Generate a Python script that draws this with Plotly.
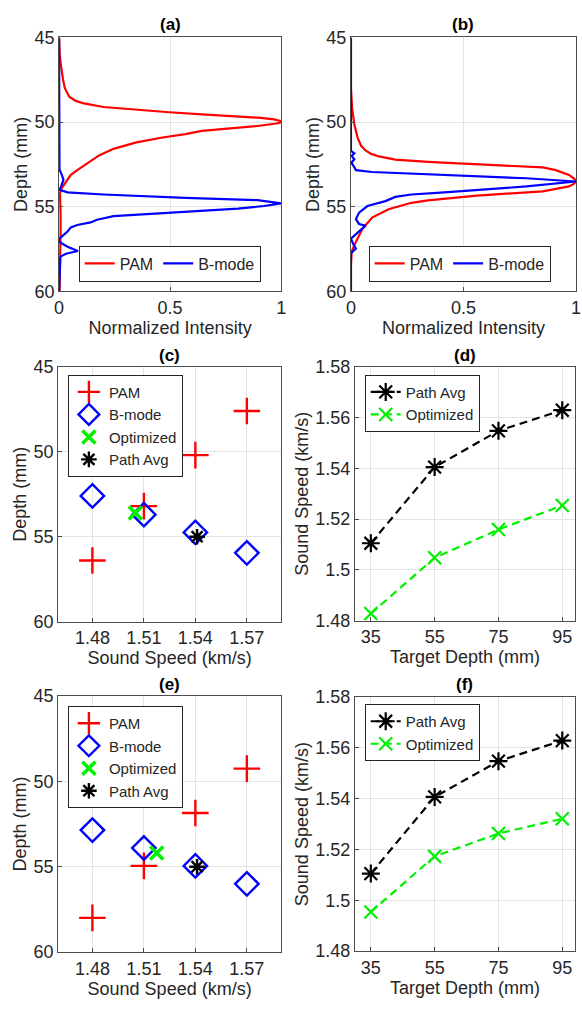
import plotly.graph_objects as go

# ---------------- data ----------------
# (a) axial intensity profiles, case 1
a_pam_depth = [45.0, 45.5, 46.0, 46.5, 47.0, 47.5, 48.0, 48.5, 48.75, 48.9, 49.11, 49.27, 49.42,
               49.54, 49.65, 49.75, 49.84, 49.93, 50.0, 50.07, 50.23, 50.42, 50.52, 50.71, 50.91,
               51.2, 51.58, 51.97, 52.35, 52.64, 52.84, 53.12, 53.51, 53.9, 54.19, 54.6, 55.5,
               56.5, 57.5, 58.5, 59.3, 60.0]
a_pam_int = [0.0, 0.001, 0.003, 0.007, 0.012, 0.018, 0.026, 0.046, 0.075, 0.112, 0.2, 0.348, 0.496,
             0.643, 0.791, 0.909, 0.968, 0.995, 1.0, 0.985, 0.894, 0.746, 0.643, 0.569, 0.466,
             0.348, 0.245, 0.18, 0.135, 0.104, 0.082, 0.053, 0.031, 0.012, 0.004, 0.006, 0.007,
             0.007, 0.006, 0.005, 0.003, 0.002]
a_bm_depth = [45.0, 50.0, 52.8, 53.1, 53.4, 53.7, 54.0, 54.15, 54.28, 54.48, 54.61, 54.8, 54.96,
              55.11, 55.29, 55.46, 55.56, 55.77, 55.93, 56.08, 56.22, 56.47, 56.7, 56.9, 57.08,
              57.37, 57.62, 57.78, 57.95, 58.82, 59.77, 60.0]
a_bm_int = [0.0, 0.0, 0.002, 0.012, 0.02, 0.012, 0.003, 0.038, 0.2, 0.569, 0.894, 1.0, 0.923,
            0.805, 0.569, 0.348, 0.245, 0.171, 0.142, 0.082, 0.053, 0.038, 0.016, 0.0, 0.001,
            0.038, 0.085, 0.031, 0.006, 0.003, 0.0, 0.0]

# (b) axial intensity profiles, case 2
b_pam_depth = [45.0, 48.0, 49.17, 50.13, 50.9, 51.4, 51.68, 51.88, 52.03, 52.22, 52.35, 52.49,
               52.68, 52.84, 53.12, 53.35, 53.51, 53.65, 53.8, 54.09, 54.34, 54.63, 54.77, 55.15,
               55.64, 56.31, 56.7, 57.27, 57.66, 58.5, 60.0]
b_pam_int = [0.0, 0.0, 0.005, 0.015, 0.029, 0.045, 0.065, 0.09, 0.124, 0.197, 0.342, 0.56,
             0.852, 0.91, 0.969, 0.992, 1.0, 0.99, 0.969, 0.852, 0.56, 0.342, 0.269, 0.167,
             0.094, 0.051, 0.036, 0.015, 0.003, 0.0, 0.0]
b_bm_depth = [45.0, 51.7, 51.85, 52.0, 52.2, 52.4, 52.6, 52.84, 52.95, 53.12, 53.32, 53.51, 53.8,
              54.15, 54.28, 54.42, 54.67, 54.96, 55.35, 55.73, 56.02, 56.12, 56.6, 56.89, 57.2,
              57.47, 57.74, 60.0]
b_bm_int = [0.0, 0.0, 0.015, 0.003, 0.015, 0.002, 0.012, 0.022, 0.094, 0.415, 0.779, 1.0, 0.78,
            0.415, 0.269, 0.197, 0.153, 0.073, 0.036, 0.022, 0.036, 0.065, 0.022, 0.0, 0.01,
            0.022, 0.0, 0.0]

# (c) / (e) focal depth vs assumed sound speed
speeds = [1.48, 1.51, 1.54, 1.57]
c_pam_depth = [56.4, 53.2, 50.2, 47.6]
c_bm_depth = [52.6, 53.7, 54.75, 55.95]
c_opt_speed, c_opt_depth = [1.505], [53.6]
c_avg_speed, c_avg_depth = [1.541], [55.0]

e_pam_depth = [58.0, 54.95, 51.85, 49.25]
e_bm_depth = [52.85, 53.9, 54.95, 56.0]
e_opt_speed, e_opt_depth = [1.5175], [54.2]
e_avg_speed, e_avg_depth = [1.541], [55.0]

# (d) / (f) sound speed vs target depth
target_depth = [35, 55, 75, 95]
d_path_avg = [1.5105, 1.5405, 1.5548, 1.5629]
d_optimized = [1.4828, 1.5048, 1.5159, 1.5254]
f_path_avg = [1.5105, 1.5407, 1.5548, 1.5629]
f_optimized = [1.4954, 1.5173, 1.5263, 1.5321]

panel_titles = ["(a)", "(b)", "(c)", "(d)", "(e)", "(f)"]

# ---------------- styling ----------------
FONT = "Liberation Sans, Arial, sans-serif"
TXT = "#262626"
AXC = "#4d4d4d"
GRID = "#e3e3e3"
RED, BLUE, GREEN, BLACK = "#ff0000", "#0000ff", "#00f000", "#000000"

W, H = 582, 1013


def xd(p0, p1):
    return [p0 / W, p1 / W]


def yd(p0, p1):
    return [1 - p1 / H, 1 - p0 / H]


# pixel boxes of the six axes: (left, right, top, bottom)
boxes = [
    (55, 281, 28, 287),
    (352, 581, 28, 287),
    (54, 281, 364, 624),
    (356, 580, 364, 623),
    (54, 281, 700, 961),
    (356, 580, 701, 960),
]

fig = go.Figure()


def ax_common():
    return dict(
        showline=True, mirror=True, linecolor=AXC, linewidth=1,
        ticks="inside", ticklen=4, tickcolor=AXC, tickwidth=1,
        showgrid=True, gridcolor=GRID, gridwidth=1, zeroline=False,
        tickfont=dict(family=FONT, size=18, color=TXT),
        title_font=dict(family=FONT, size=18, color=TXT),
    )


layout = dict(
    width=W, height=H, margin=dict(l=0, r=0, t=0, b=0),
    paper_bgcolor="white", plot_bgcolor="white", showlegend=True,
    font=dict(family=FONT, size=16, color=TXT),
)

for i, (l, r, t, b) in enumerate(boxes):
    n = "" if i == 0 else str(i + 1)
    xa = ax_common()
    ya = ax_common()
    xa.update(domain=xd(l, r), anchor="y" + n)
    ya.update(domain=yd(t, b), anchor="x" + n)
    if i in (0, 1):
        xa.update(range=[0, 1], tickvals=[0, 0.5, 1], ticktext=["0", "0.5", "1"],
                  title=dict(text="Normalized Intensity", standoff=3))
        ya.update(range=[60, 45], tickvals=[45, 50, 55, 60],
                  title=dict(text="Depth (mm)", standoff=2))
    elif i in (2, 4):
        xa.update(range=[1.46, 1.59], tickvals=speeds, ticktext=["1.48", "1.51", "1.54", "1.57"],
                  title=dict(text="Sound Speed (km/s)", standoff=3))
        ya.update(range=[60, 45], tickvals=[45, 50, 55, 60],
                  title=dict(text="Depth (mm)", standoff=2))
    else:
        xa.update(range=[30, 99], tickvals=target_depth,
                  title=dict(text="Target Depth (mm)", standoff=3))
        ya.update(range=[1.48, 1.58], tickvals=[1.48, 1.50, 1.52, 1.54, 1.56, 1.58],
                  ticktext=["1.48", "1.5", "1.52", "1.54", "1.56", "1.58"],
                  title=dict(text="Sound Speed (km/s)", standoff=1))
    layout["xaxis" + n] = xa
    layout["yaxis" + n] = ya

# panel titles
ann = []
title_y = [15, 15, 352, 352, 688, 688]
for i, (l, r, t, b) in enumerate(boxes):
    ann.append(dict(text="<b>%s</b>" % panel_titles[i], x=(l + r) / 2 / W, y=1 - title_y[i] / H,
                    xref="paper", yref="paper", showarrow=False, xanchor="center", yanchor="middle",
                    font=dict(family=FONT, size=17, color="#000000")))
layout["annotations"] = ann

# legends
leg_base = dict(bgcolor="white", bordercolor="#262626", borderwidth=1, tracegroupgap=0)
h_font = dict(family=FONT, size=16, color=TXT)
v_font = dict(family=FONT, size=15, color=TXT)
layout["legend"] = dict(leg_base, font=h_font, orientation="h", x=75 / W, y=1 - 277 / H,
                        xanchor="left", yanchor="bottom")
layout["legend2"] = dict(leg_base, font=h_font, orientation="h", x=370 / W, y=1 - 277 / H,
                         xanchor="left", yanchor="bottom")
layout["legend3"] = dict(leg_base, font=v_font, orientation="v", x=64 / W, y=1 - 372 / H,
                         xanchor="left", yanchor="top")
layout["legend4"] = dict(leg_base, font=v_font, orientation="v", x=366 / W, y=1 - 372 / H,
                         xanchor="left", yanchor="top")
layout["legend5"] = dict(leg_base, font=v_font, orientation="v", x=64 / W, y=1 - 710 / H,
                         xanchor="left", yanchor="top")
layout["legend6"] = dict(leg_base, font=v_font, orientation="v", x=366 / W, y=1 - 708 / H,
                         xanchor="left", yanchor="top")

# (a), (b) profiles
for k, (pd_, pi_, bd_, bi_) in enumerate([(a_pam_depth, a_pam_int, a_bm_depth, a_bm_int),
                                          (b_pam_depth, b_pam_int, b_bm_depth, b_bm_int)]):
    n = "" if k == 0 else str(k + 1)
    leg = "legend" + n
    fig.add_trace(go.Scatter(x=pi_, y=pd_, mode="lines", name="PAM", legend=leg,
                             line=dict(color=RED, width=2.2), xaxis="x" + n, yaxis="y" + n))
    fig.add_trace(go.Scatter(x=bi_, y=bd_, mode="lines", name="B-mode", legend=leg,
                             line=dict(color=BLUE, width=2.2), xaxis="x" + n, yaxis="y" + n))

# (c), (e) scatter panels
for k, (pam, bm, os_, od_, as_, ad_) in enumerate([
        (c_pam_depth, c_bm_depth, c_opt_speed, c_opt_depth, c_avg_speed, c_avg_depth),
        (e_pam_depth, e_bm_depth, e_opt_speed, e_opt_depth, e_avg_speed, e_avg_depth)]):
    n = str(3 + 2 * k)
    leg = "legend" + n
    fig.add_trace(go.Scatter(x=speeds, y=pam, mode="markers", name="PAM", legend=leg,
                             marker=dict(symbol="cross-thin", size=19,
                                         line=dict(color=RED, width=2.4)),
                             xaxis="x" + n, yaxis="y" + n))
    fig.add_trace(go.Scatter(x=speeds, y=bm, mode="markers", name="B-mode", legend=leg,
                             marker=dict(symbol="diamond-open", size=18, color=BLUE,
                                         line=dict(color=BLUE, width=2.4)),
                             xaxis="x" + n, yaxis="y" + n))
    fig.add_trace(go.Scatter(x=os_, y=od_, mode="markers", name="Optimized", legend=leg,
                             marker=dict(symbol="x-thin", size=13,
                                         line=dict(color=GREEN, width=3.6)),
                             xaxis="x" + n, yaxis="y" + n))
    fig.add_trace(go.Scatter(x=as_, y=ad_, mode="markers", name="Path Avg", legend=leg,
                             marker=dict(symbol="asterisk", size=13,
                                         line=dict(color=BLACK, width=2.4)),
                             xaxis="x" + n, yaxis="y" + n))

# (d), (f) line panels
for k, (pa, op) in enumerate([(d_path_avg, d_optimized), (f_path_avg, f_optimized)]):
    n = str(4 + 2 * k)
    leg = "legend" + n
    fig.add_trace(go.Scatter(x=target_depth, y=pa, mode="lines+markers", name="Path Avg",
                             legend=leg, line=dict(color=BLACK, width=2.2, dash="8px,5px"),
                             marker=dict(symbol="asterisk", size=15,
                                         line=dict(color=BLACK, width=2.2)),
                             xaxis="x" + n, yaxis="y" + n))
    fig.add_trace(go.Scatter(x=target_depth, y=op, mode="lines+markers", name="Optimized",
                             legend=leg, line=dict(color=GREEN, width=2.2, dash="8px,5px"),
                             marker=dict(symbol="x-thin", size=13,
                                         line=dict(color=GREEN, width=2.2)),
                             xaxis="x" + n, yaxis="y" + n))

fig.update_layout(**layout)
fig.write_html("out.html")
